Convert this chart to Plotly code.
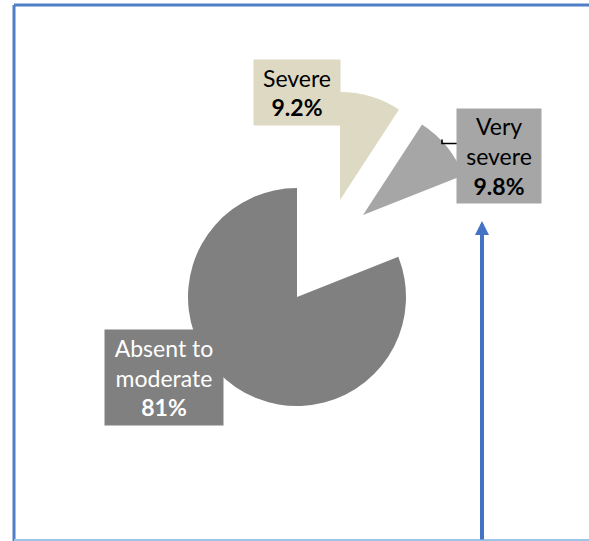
import plotly.graph_objects as go

# ---- data ----
categories = ["Severe", "Very severe", "Absent to moderate"]
values = [9.2, 9.8, 81]
value_labels = ["9.2%", "9.8%", "81%"]
label_lines = [["Severe"], ["Very", "severe"], ["Absent to", "moderate"]]

slice_colors = ["#DDD9C3", "#A6A6A6", "#808080"]
text_colors = ["#000000", "#000000", "#FFFFFF"]

W, H = 589, 541
CLEAR = "rgba(0,0,0,0)"


def px(x):
    return x / W


def py(y):
    return 1 - y / H


# exploded pie: each slice drawn by its own pie trace (same data),
# centred where the exploded slice sits (pixel centre, radius)
slice_centres = [(340, 200, 108), (363, 215, 108), (297, 297, 109)]

fig = go.Figure()
for i, cat in enumerate(categories):
    cx, cy, r = slice_centres[i]
    cols = [slice_colors[j] if j == i else CLEAR for j in range(len(categories))]
    fig.add_trace(go.Pie(
        labels=categories,
        values=values,
        sort=False,
        direction="clockwise",
        rotation=0,
        marker=dict(colors=cols, line=dict(width=0)),
        textinfo="none",
        hoverinfo="label+percent",
        showlegend=False,
        domain=dict(x=[px(cx - r), px(cx + r)], y=[py(cy + r), py(cy - r)]),
    ))

# label boxes: center (px), width, height
box_pos = [(297, 92.5, 86, 65), (499, 156, 84, 94), (164, 377.5, 118, 95)]
annotations = []
for i, cat in enumerate(categories):
    bx, by, bw, bh = box_pos[i]
    txt = "<br>".join(label_lines[i]) + "<br><b>" + value_labels[i] + "</b>"
    annotations.append(dict(
        x=px(bx), y=py(by), xref="paper", yref="paper",
        xanchor="center", yanchor="middle",
        text=txt, showarrow=False, align="center",
        width=bw, height=bh, borderpad=0,
        bgcolor=slice_colors[i],
        font=dict(family="Lato", size=23, color=text_colors[i]),
    ))

# blue arrow pointing to the Very severe label
annotations.append(dict(
    x=px(482), y=py(221), xref="paper", yref="paper",
    ax=0, ay=H - 221, axref="pixel", ayref="pixel",
    text="", showarrow=True, arrowhead=2, arrowsize=0.7,
    arrowwidth=4, arrowcolor="#4472C4", standoff=0,
))

shapes = [
    # frame
    dict(type="line", xref="paper", yref="paper", x0=px(14), x1=1, y0=py(5), y1=py(5),
         line=dict(color="#4F7EC4", width=3)),
    dict(type="line", xref="paper", yref="paper", x0=px(14), x1=px(14), y0=py(5), y1=0,
         line=dict(color="#4F7EC4", width=3)),
    dict(type="line", xref="paper", yref="paper", x0=px(14), x1=1, y0=py(540), y1=py(540),
         line=dict(color="#9DC3E6", width=2)),
    # small leader line
    dict(type="path", xref="paper", yref="paper",
         path=f"M {px(442)},{py(139.5)} L {px(442)},{py(143.5)} L {px(457)},{py(143.5)}",
         line=dict(color="#000000", width=1.6)),
]

fig.update_layout(
    width=W, height=H,
    margin=dict(l=0, r=0, t=0, b=0),
    paper_bgcolor="#FFFFFF",
    plot_bgcolor="#FFFFFF",
    annotations=annotations,
    shapes=shapes,
)

fig.write_html(
    "out.html",
    config={"displayModeBar": False},
    post_script="document.body.style.margin='0';document.body.style.overflow='hidden';",
)
